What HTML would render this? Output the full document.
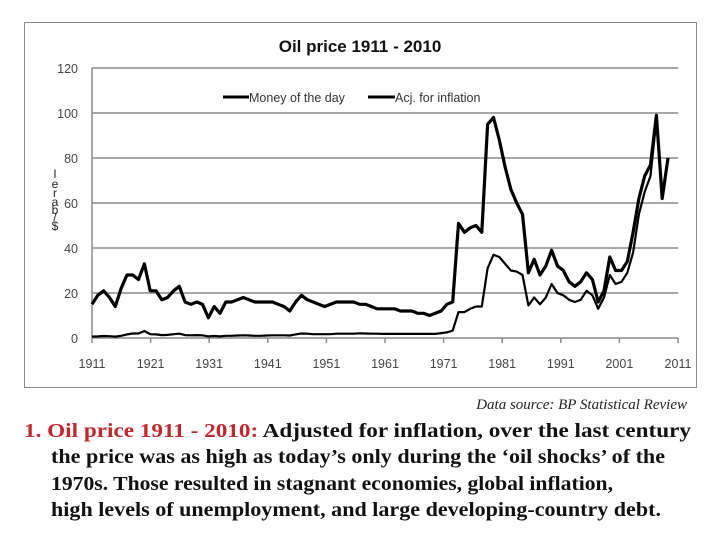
<!DOCTYPE html>
<html><head><meta charset="utf-8"><style>
html,body{margin:0;padding:0;background:#fff;}
svg{display:block;}
</style></head><body>
<svg width="720" height="540" viewBox="0 0 720 540" xmlns="http://www.w3.org/2000/svg">
<rect x="24.5" y="22.5" width="672" height="365" fill="#fff" stroke="#8c8c8c" stroke-width="1"/>
<text x="360" y="52" text-anchor="middle" font-family="Liberation Sans, sans-serif" font-weight="bold" font-size="17" fill="#111">Oil price 1911 - 2010</text>
<g id="grid"></g>
<g id="yticks"></g>
<g id="xticks"></g>
<g id="series"></g>
<g font-family="Liberation Sans, sans-serif" font-size="12" fill="#222" text-anchor="middle">
<text x="55" y="178">l</text><text x="55" y="188">e</text><text x="55" y="197">r</text><text x="55" y="206">a</text><text x="55" y="214">b</text><text x="55" y="221">/</text><text x="55" y="230">$</text>
</g>
<g font-family="Liberation Sans, sans-serif" font-size="12.5" fill="#333">
<g><line x1="223" y1="97" x2="249" y2="97" stroke="#000" stroke-width="3"/><text x="249" y="102">Money of the  day</text></g>
<g><line x1="368" y1="97" x2="395" y2="97" stroke="#000" stroke-width="3"/><text x="395" y="102">Acj. for inflation</text></g>
</g>
<text x="687" y="409" text-anchor="end" font-family="Liberation Serif, serif" font-style="italic" font-size="15" fill="#222">Data source: BP Statistical Review</text>
<g font-family="Liberation Serif, serif" font-weight="bold" font-size="20" fill="#111">
<text x="24" y="437" textLength="667" lengthAdjust="spacingAndGlyphs"><tspan fill="#c0282d">1.  Oil price 1911 - 2010:</tspan>  Adjusted for inflation, over the last century</text>
<text x="51" y="463" textLength="614" lengthAdjust="spacingAndGlyphs">the price was as high as today’s only during the ‘oil shocks’ of the</text>
<text x="51" y="490" textLength="562" lengthAdjust="spacingAndGlyphs">1970s. Those resulted in stagnant economies, global inflation,</text>
<text x="51" y="516" textLength="610" lengthAdjust="spacingAndGlyphs">high levels of unemployment, and large developing-country debt.</text>
</g>
</svg>
<script>
const startYear = 1911;
const yTicks = [0,20,40,60,80,100,120];
const xTickLabels = ["1911","1921","1931","1941","1951","1961","1971","1981","1991","2001","2011"];
const adjusted = [15,19,21,18,14,22,28,28,26,33, 21,21,17,18,21,23,16,15,16,15, 9,14,11,16,16,17,18,17,16,16, 16,16,15,14,12,16,19,17,16,15, 14,15,16,16,16,16,15,15,14,13, 13,13,13,12,12,12,11,11,10,11, 12,15,16,51,47,49,50,47,95,98, 88,76,66,60,55,29,35,28,32,39, 32,30,25,23,25,29,26,16,21,36, 30,30,34,47,62,72,77,99,62,80];
const money = [0.6,0.7,0.9,0.8,0.6,1.0,1.6,2.0,2.0,3.1, 1.7,1.6,1.3,1.4,1.7,1.9,1.3,1.2,1.3,1.2, 0.7,0.9,0.7,1.0,1.0,1.1,1.2,1.1,1.0,1.0, 1.1,1.2,1.2,1.2,1.1,1.6,2.0,1.9,1.7,1.7, 1.7,1.7,1.9,1.9,1.9,1.9,2.1,2.0,1.9,1.9, 1.8,1.8,1.8,1.8,1.8,1.8,1.8,1.8,1.8,1.8, 2.2,2.5,3.3,11.5,11.5,13,14,14,31,37, 36,33,30,29.5,28,14.5,18,15,18,24, 20,19,17,16,17,21,19,13,18,28, 24,25,29,38,55,65,72,97,62,80];
const NS='http://www.w3.org/2000/svg';
const X0=92, X1=678, Y0=338, Y1=68;
function xs(i){return X0+(X1-X0)*i/100;}
function xd(i){return X0+576*i/99;}
function ys(v){return Y0-(Y0-Y1)*v/120;}
function mk(t,a){const e=document.createElementNS(NS,t);for(const k in a)e.setAttribute(k,a[k]);return e;}
const grid=document.getElementById('grid'), yt=document.getElementById('yticks'), xt=document.getElementById('xticks'), ser=document.getElementById('series');
yTicks.forEach(v=>{
  if(v>0){const l=mk('line',{x1:X0,x2:X1,y1:ys(v),y2:ys(v),stroke:'#8a8a8a','stroke-width':1.5});
  
  
  grid.appendChild(l);}
  const t=mk('text',{x:78,y:ys(v)+5,'text-anchor':'end','font-family':'Liberation Sans, sans-serif','font-size':12.5,fill:'#444'});
  t.textContent=String(v);
  
  
  yt.appendChild(t);
});
const ax=mk('line',{x1:X0,x2:X0,y1:Y1,y2:Y0,stroke:'#8a8a8a','stroke-width':1.5});


grid.appendChild(ax);
const bx=mk('line',{x1:X0,x2:X1,y1:Y0,y2:Y0,stroke:'#8a8a8a','stroke-width':1.5});


grid.appendChild(bx);
xTickLabels.forEach((lab,k)=>{
  const i=(parseInt(lab)-startYear);
  const tk=mk('line',{x1:xs(i),x2:xs(i),y1:Y0,y2:Y0+5,stroke:'#8a8a8a','stroke-width':1.5});
  
  
  xt.appendChild(tk);
  const t=mk('text',{x:xs(i),y:368,'text-anchor':'middle','font-family':'Liberation Sans, sans-serif','font-size':12.5,fill:'#444'});
  t.textContent=lab;
  
  
  xt.appendChild(t);
});
function path(arr){return arr.map((v,i)=>(i?'L':'M')+xd(i).toFixed(1)+' '+ys(v).toFixed(1)).join(' ');}
const pm=mk('path',{d:path(money),fill:'none',stroke:'#000','stroke-width':2.2,'stroke-linejoin':'round'});


ser.appendChild(pm);
const pa=mk('path',{d:path(adjusted),fill:'none',stroke:'#000','stroke-width':3.2,'stroke-linejoin':'round'});


ser.appendChild(pa);
</script>
</body></html>
